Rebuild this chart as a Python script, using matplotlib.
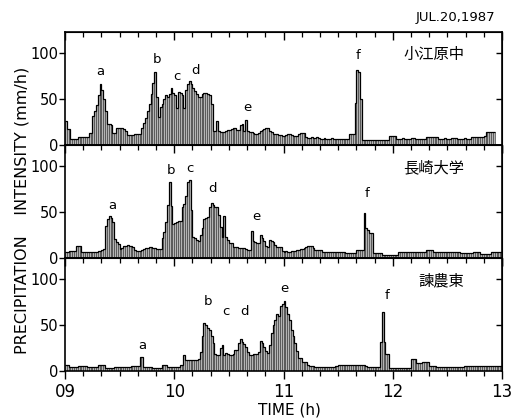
import numpy as np
import matplotlib
matplotlib.use("Agg")
import matplotlib.pyplot as plt
from matplotlib.ticker import MultipleLocator, FixedLocator

# One-minute rainfall intensity (mm/h), 09:00-12:59, one value per minute
kooebaru = [
    26, 17, 17, 7, 7, 7, 7, 9, 9, 9, 9, 9, 9, 13, 13, 32, 37, 43, 54, 66,
    60, 50, 37, 23, 23, 22, 13, 13, 18, 18, 19, 19, 17, 15, 11, 11, 11, 11, 12, 12,
    12, 12, 18, 24, 29, 37, 45, 55, 68, 79, 52, 30, 41, 45, 50, 54, 52, 55, 62, 57,
    54, 40, 58, 57, 54, 40, 60, 66, 70, 66, 62, 59, 56, 52, 52, 56, 57, 57, 56, 54,
    45, 15, 15, 26, 15, 14, 14, 14, 15, 16, 16, 17, 18, 18, 16, 16, 22, 23, 15, 27,
    15, 14, 14, 13, 12, 12, 13, 15, 16, 17, 19, 19, 15, 14, 12, 12, 12, 11, 11, 10,
    10, 11, 12, 12, 11, 10, 10, 10, 12, 13, 13, 13, 9, 8, 8, 9, 8, 8, 9, 8,
    7, 7, 8, 7, 7, 7, 8, 7, 7, 7, 7, 7, 7, 7, 7, 7, 12, 12, 12, 46, 82, 80, 50, 5,
    5, 5, 5, 5, 5, 5, 5, 5, 5, 5, 5, 5, 5, 5, 10, 10, 10, 10, 7, 7,
    7, 8, 7, 6, 7, 7, 8, 8, 7, 7, 6, 7, 7, 7, 9, 9, 9, 9, 9, 9,
    9, 7, 7, 7, 8, 7, 7, 7, 8, 8, 8, 7, 7, 7, 7, 8, 7, 7, 7, 9,
    9, 9, 9, 9, 9, 9, 10, 14, 14, 14, 14, 14,
]
kooebaru = kooebaru[:240]

nagasaki_univ = [
    6, 6, 8, 8, 8, 8, 13, 13, 13, 7, 7, 7, 7, 6, 6, 6, 6, 7, 8, 8,
    9, 10, 35, 42, 46, 44, 39, 21, 17, 15, 10, 11, 13, 13, 14, 13, 13, 12, 9, 8,
    8, 8, 9, 10, 11, 11, 12, 12, 11, 11, 10, 10, 10, 22, 28, 39, 58, 83, 57, 37,
    38, 39, 40, 40, 55, 59, 68, 83, 85, 52, 23, 22, 20, 19, 25, 33, 42, 43, 45, 55,
    60, 58, 55, 56, 47, 34, 23, 46, 23, 20, 16, 16, 12, 12, 12, 11, 11, 11, 11, 10,
    9, 9, 29, 19, 17, 16, 16, 25, 22, 19, 13, 12, 20, 19, 17, 14, 12, 12, 12, 8,
    7, 8, 7, 7, 8, 8, 8, 9, 9, 10, 10, 11, 12, 13, 13, 13, 11, 9, 9, 9,
    9, 7, 7, 7, 7, 7, 7, 6, 6, 6, 6, 6, 6, 6, 5, 5, 5, 5, 5, 5,
    9, 9, 9, 9, 49, 33, 31, 27, 27, 5, 5, 5, 5, 5, 3, 3, 3, 3, 3, 3,
    3, 3, 3, 7, 7, 7, 7, 7, 6, 6, 6, 6, 6, 6, 6, 6, 6, 6, 9, 9,
    9, 9, 6, 6, 6, 6, 6, 6, 6, 7, 7, 7, 7, 7, 7, 7, 7, 5, 5, 5,
    5, 5, 5, 5, 6, 6, 6, 6, 4, 4, 4, 4, 4, 4, 7, 7, 7, 7, 7, 7,
]

isahaya_east = [
    7, 7, 4, 4, 4, 4, 4, 5, 5, 5, 5, 5, 4, 4, 4, 4, 4, 4, 6, 6,
    6, 6, 3, 3, 3, 3, 3, 4, 4, 4, 4, 4, 4, 4, 4, 4, 5, 5, 5, 5,
    5, 15, 15, 4, 4, 4, 4, 4, 3, 3, 3, 3, 3, 7, 7, 7, 4, 4, 4, 4,
    4, 4, 4, 6, 6, 17, 12, 12, 12, 12, 12, 12, 12, 13, 21, 38, 52, 50, 47, 45,
    38, 30, 19, 17, 17, 25, 28, 17, 20, 19, 17, 17, 19, 23, 23, 30, 35, 32, 29, 26,
    21, 17, 17, 18, 18, 18, 21, 33, 30, 26, 22, 20, 28, 41, 50, 55, 62, 60, 71, 73,
    76, 70, 62, 55, 45, 38, 30, 22, 14, 14, 10, 10, 10, 6, 5, 5, 5, 4, 4, 4,
    4, 4, 4, 4, 4, 4, 4, 4, 5, 5, 6, 6, 6, 6, 6, 6, 7, 7, 7, 7,
    7, 7, 6, 6, 6, 5, 4, 4, 4, 4, 4, 4, 4, 32, 64, 32, 18, 18, 3, 3,
    3, 3, 3, 3, 3, 3, 3, 3, 3, 3, 13, 13, 13, 9, 9, 9, 10, 10, 10, 10,
    5, 5, 5, 5, 4, 4, 4, 4, 4, 4, 4, 4, 4, 4, 4, 4, 4, 4, 4, 5,
    5, 5, 5, 5, 5, 5, 5, 5, 5, 5, 5, 5, 5, 5, 5, 5, 5, 5, 5, 5,
]

station_names = ["小江原中", "長崎大学", "諫農東"]
hour_ticks = [9, 10, 11, 12, 13]
hour_labels = ["09", "10", "11", "12", "13"]
y_ticks = [0, 50, 100]

# Peak letters for each station: (label, hour, intensity)
peak_labels = [
    [("a", 9.32, 80), ("b", 9.84, 93), ("c", 10.02, 75), ("d", 10.19, 81),
     ("e", 10.67, 41), ("f", 11.68, 97)],
    [("a", 9.43, 57), ("b", 9.97, 95), ("c", 10.14, 97), ("d", 10.35, 76),
     ("e", 10.75, 45), ("f", 11.76, 70)],
    [("a", 9.71, 28), ("b", 10.31, 76), ("c", 10.47, 65), ("d", 10.64, 65),
     ("e", 11.01, 90), ("f", 11.95, 82)],
]

series = [kooebaru, nagasaki_univ, isahaya_east]

plt.rcParams["font.family"] = ["DejaVu Sans"]
fig = plt.figure(figsize=(5.14, 4.20), dpi=100)
gs = fig.add_gridspec(3, 1, left=0.1265, right=0.9767, top=0.9238,
                      bottom=0.1167, hspace=0)

jp_font = ["Noto Sans CJK JP", "DejaVu Sans"]

for i, (vals, name, peaks) in enumerate(zip(series, station_names, peak_labels)):
    ax = fig.add_subplot(gs[i])
    vals = np.asarray(vals, dtype=float)
    t = 9 + np.arange(len(vals)) / 60.0
    ax.bar(t, vals, width=1 / 60.0, align="edge", facecolor="#b4b4b4",
           edgecolor="#3a3a3a", linewidth=0.45)
    # outline of the histogram
    edges = np.append(t, t[-1] + 1 / 60.0)
    ax.stairs(vals, edges, color="black", linewidth=0.9, baseline=None)

    ax.set_xlim(9, 13)
    ax.set_ylim(0, 123)

    for lab, xh, yv in peaks:
        ax.text(xh, yv, lab, ha="center", va="center", fontsize=9.5)

    ax.text(0.913, 0.80, name, transform=ax.transAxes, ha="right",
            va="center", fontsize=11, family=jp_font)

    ax.xaxis.set_major_locator(FixedLocator(hour_ticks))
    ax.xaxis.set_minor_locator(MultipleLocator(1 / 6))
    ax.yaxis.set_major_locator(FixedLocator(y_ticks))
    ax.tick_params(axis="x", which="major", direction="out", length=6,
                   width=1.0, top=False)
    ax.tick_params(axis="x", which="minor", direction="out", length=3.5,
                   width=0.9, top=False)
    ax.tick_params(axis="y", direction="out", length=4, width=1.0,
                   labelsize=10.5, right=False, pad=1)

    # inward ticks along the top and right edges
    top = ax.secondary_xaxis("top")
    top.xaxis.set_major_locator(FixedLocator(hour_ticks))
    top.xaxis.set_minor_locator(MultipleLocator(1 / 6))
    top.tick_params(which="major", direction="in", length=6, width=1.0,
                    labeltop=False)
    top.tick_params(which="minor", direction="in", length=3.5, width=0.9)
    right = ax.secondary_yaxis("right")
    right.yaxis.set_major_locator(FixedLocator([50, 100]))
    right.tick_params(direction="in", length=4, width=1.0, labelright=False)

    for sp in ax.spines.values():
        sp.set_linewidth(1.2)

    if i < 2:
        ax.tick_params(axis="x", labelbottom=False)
    else:
        ax.set_xticklabels(hour_labels, fontsize=12)
        ax.tick_params(axis="x", pad=3)

fig.text(0.963, 0.958, "JUL.20,1987", ha="right", va="center", fontsize=9.5)
fig.text(0.043, 0.498, "PRECIPITATION    INTENSITY (mm/h)", rotation=90,
         ha="center", va="center", fontsize=11.5)
fig.text(0.564, 0.024, "TIME (h)", ha="center", va="center", fontsize=11)

fig.savefig("out.png", dpi=100)
